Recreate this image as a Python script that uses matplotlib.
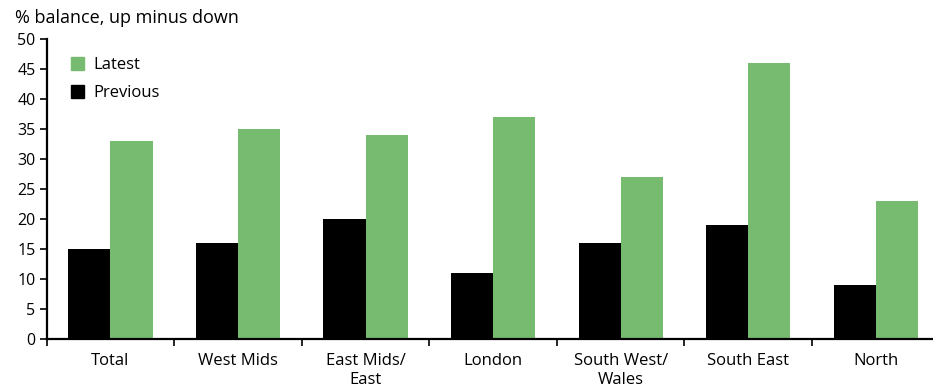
import matplotlib
matplotlib.use("Agg")

import matplotlib.pyplot as plt
import numpy as np
from matplotlib.patches import Patch

plt.rcParams["font.family"] = ["Open Sans", "DejaVu Sans"]

# ── 数据 ──
regions = ["Total", "West Mids", "East Mids/\nEast", "London",
           "South West/\nWales", "South East", "North"]
previous = [15, 16, 20, 11, 16, 19, 9]
latest = [33, 35, 34, 37, 27, 46, 23]
y_ticks = list(range(0, 51, 5))

GREEN = "#77BB70"
BLACK = "#000000"

fig = plt.figure(figsize=(9.33, 3.91), dpi=100)
# 坐标轴右端超出画布（原图被裁切）
ax = fig.add_axes([0.05, 0.133, 0.957, 0.767])

x = np.arange(len(regions))
w = 0.33
ax.bar(x - w / 2, previous, width=w, color=BLACK, label="Previous")
ax.bar(x + w / 2, latest, width=w, color=GREEN, label="Latest")

ax.set_xlim(-0.5, len(regions) - 0.5)
ax.set_ylim(0, 50)
ax.set_yticks(y_ticks)
ax.tick_params(axis="y", labelsize=11.5, length=5, width=1.2, pad=3)

# 类别标签居中，刻度线放在类别分界处
ax.set_xticks(x)
ax.set_xticklabels(regions, fontsize=12, linespacing=1.25)
ax.tick_params(axis="x", which="major", length=0, pad=10)
ax.set_xticks(np.arange(-0.5, len(regions), 1.0), minor=True)
ax.tick_params(axis="x", which="minor", length=5, width=1.2)

for side in ("top", "right"):
    ax.spines[side].set_visible(False)
for side in ("left", "bottom"):
    ax.spines[side].set_linewidth(1.6)

handles = [Patch(color=GREEN, label="Latest"), Patch(color=BLACK, label="Previous")]
ax.legend(handles=handles, loc="upper left", bbox_to_anchor=(0.01, 0.99),
          frameon=False, fontsize=12, handlelength=0.8, handleheight=0.8,
          handletextpad=0.55, labelspacing=0.7)

fig.text(0.016, 0.955, "% balance, up minus down", fontsize=13, va="center")

fig.savefig("out.png", dpi=100, facecolor="white")
